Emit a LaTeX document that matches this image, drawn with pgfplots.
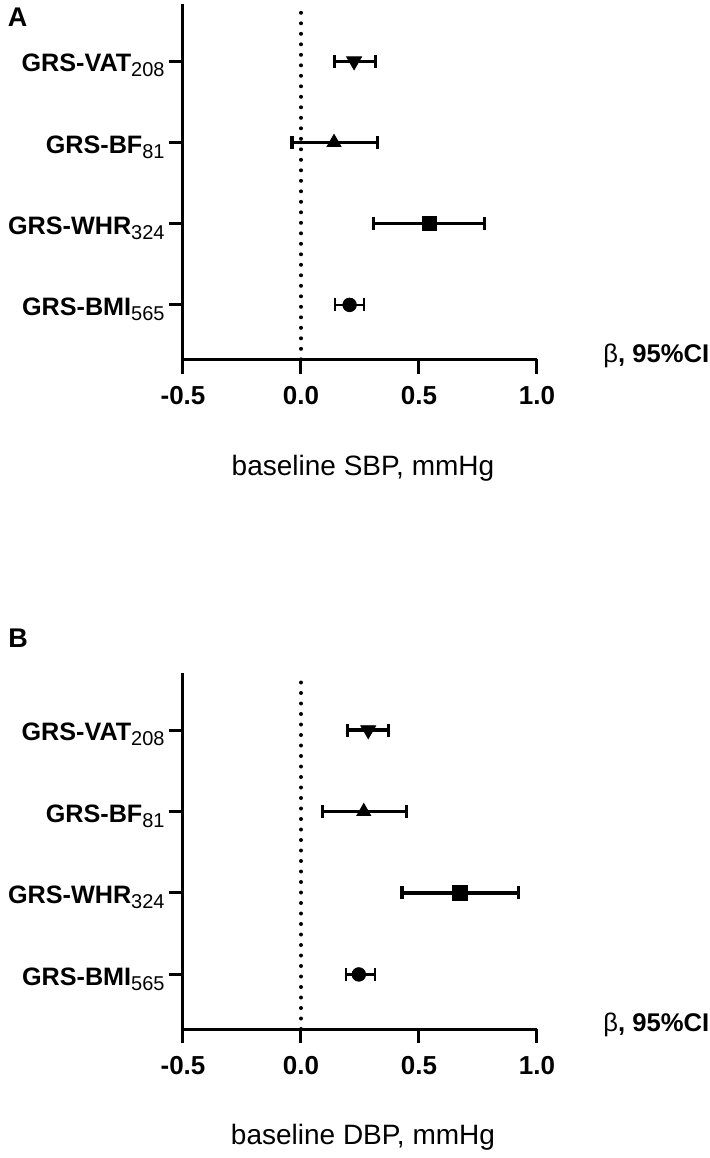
\documentclass[border=0pt]{standalone}
\usepackage{fontspec}
\setmainfont{Liberation Sans}
\usepackage{pgfplots}
\pgfplotsset{compat=1.18}

\newcommand{\glab}[2]{GRS-#1\raisebox{-2.6pt}{\fontsize{10}{10}\selectfont\mdseries #2}}

\pgfplotsset{
  forest/.style={
    scale only axis, width=177pt,
    xmin=-0.5, xmax=1.0, ymin=0.33, ymax=4.70,
    axis x line*=bottom, axis y line*=left,
    axis line style={line width=1.5pt, -, black},
    every tick/.style={line width=1.5pt, black},
    major tick length=7.2pt,
    tick align=outside,
    xtick={-0.5,0,0.5,1}, xticklabels={-0.5,0.0,0.5,1.0},
    ytick={1,2,3,4},
    yticklabels={\glab{BMI}{565},\glab{WHR}{324},\glab{BF}{81},\glab{VAT}{208}},
    ticklabel style={font=\bfseries\fontsize{13}{13}\selectfont, inner sep=0pt},
    xticklabel style={anchor=base, yshift=-15.6pt},
    yticklabel style={font=\bfseries\fontsize{12.6}{12.6}\selectfont, anchor=base east, xshift=-1.8pt, yshift=-5.3pt},
    clip=false,
  },
  ci/.style={only marks, black, mark options={fill=black, draw=black},
    error bars/x dir=both, error bars/x explicit,
    error bars/error mark=|,
    error bars/error bar style={line width=1.6pt, black},
    error bars/error mark options={line width=1.6pt, mark size=3.25pt, black}},
  cithin/.style={only marks, black, mark options={fill=black, draw=black},
    error bars/x dir=both, error bars/x explicit,
    error bars/error mark=|,
    error bars/error bar style={line width=1.1pt, black},
    error bars/error mark options={line width=1.1pt, mark size=3.25pt, black}},
  zero/.style={line width=2pt, line cap=round, dash pattern=on 0pt off 5.25pt, black, forget plot},
}

\begin{document}
\begin{tikzpicture}
\path[use as bounding box] (0,0) rectangle (354.5pt,-579pt);

\node[anchor=north west, inner sep=0pt, font=\bfseries\fontsize{13.5}{13.5}\selectfont] at (3.8pt,-4pt) {A};
\node[anchor=north west, inner sep=0pt, font=\bfseries\fontsize{13.5}{13.5}\selectfont] at (4pt,-314.5pt) {B};

% ---------- Panel A ----------
\begin{axis}[forest, height=177.5pt, at={(91.5pt,-179.65pt)}, anchor=south west]
\addplot[zero] coordinates {(0,0.33) (0,4.70)};
\addplot[ci, mark=triangle*, mark size=4.3pt, mark options={rotate=180}]
  coordinates {(0.225,4) += (0.091,0) -= (0.084,0)};
\addplot[ci, mark=triangle*, mark size=4pt]
  coordinates {(0.140,3) += (0.185,0) -= (0.178,0)};
\addplot[ci, mark=square*, mark size=3.6pt]
  coordinates {(0.544,2) += (0.234,0) -= (0.236,0)};
\addplot[cithin, mark=*, mark size=3.4pt]
  coordinates {(0.206,1) += (0.061,0) -= (0.061,0)};
\node[anchor=base, inner sep=0pt, font=\fontsize{14}{14}\selectfont]
  at (rel axis cs:0.5,0) [xshift=1.5pt, yshift=-57.85pt] {baseline SBP, mmHg};
\node[anchor=base west, inner sep=0pt, font=\bfseries\fontsize{12.8}{12.8}\selectfont]
  at (rel axis cs:1,0) [xshift=33pt, yshift=-1.35pt] {{\mdseries β}, 95\%CI};
\end{axis}

% ---------- Panel B ----------
\begin{axis}[forest, height=178pt, at={(91.5pt,-514.5pt)}, anchor=south west]
\addplot[zero] coordinates {(0,0.33) (0,4.70)};
\addplot[ci, mark=triangle*, mark size=4.3pt, mark options={rotate=180}]
  coordinates {(0.285,4) += (0.085,0) -= (0.087,0)};
\addplot[ci, mark=triangle*, mark size=4pt]
  coordinates {(0.266,3) += (0.180,0) -= (0.176,0)};
\addplot[ci, mark=square*, mark size=3.6pt]
  coordinates {(0.674,2) += (0.247,0) -= (0.246,0)};
\addplot[cithin, mark=*, mark size=3.4pt]
  coordinates {(0.245,1) += (0.067,0) -= (0.056,0)};
\node[anchor=base, inner sep=0pt, font=\fontsize{14}{14}\selectfont]
  at (rel axis cs:0.5,0) [xshift=1.5pt, yshift=-57.85pt] {baseline DBP, mmHg};
\node[anchor=base west, inner sep=0pt, font=\bfseries\fontsize{12.8}{12.8}\selectfont]
  at (rel axis cs:1,0) [xshift=33pt, yshift=-1.35pt] {{\mdseries β}, 95\%CI};
\end{axis}
\end{tikzpicture}
\end{document}
